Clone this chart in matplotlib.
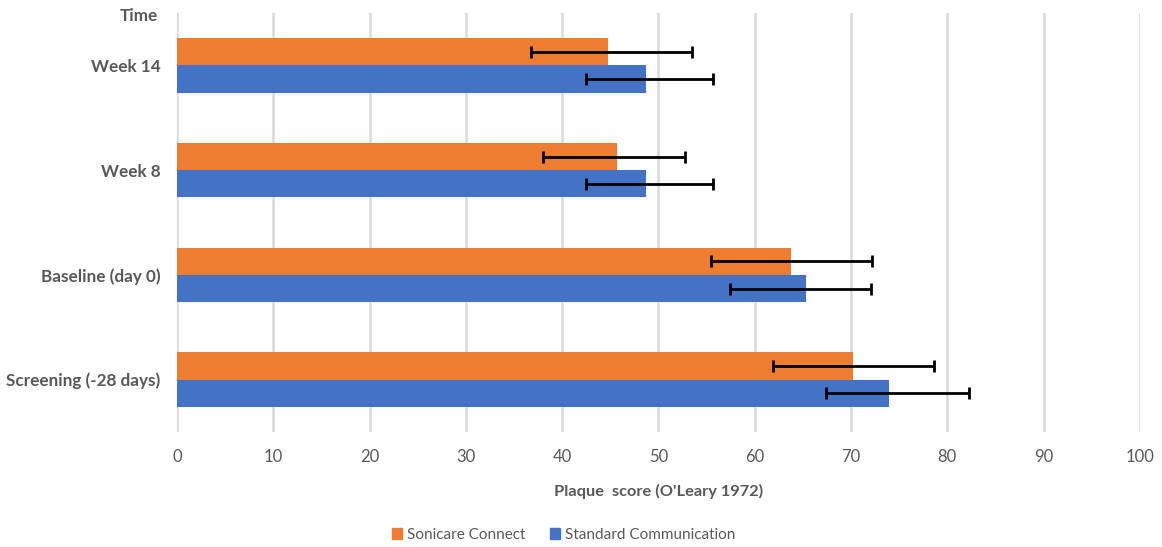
import matplotlib.pyplot as plt
from matplotlib.patches import Patch
import numpy as np

# Data (bottom to top)
categories = ['Screening (-28 days)', 'Baseline (day 0)', 'Week 8', 'Week 14']
sonicare = [70.2, 63.8, 45.7, 44.8]
sonicare_err_lo = [8.3, 8.3, 7.7, 8.0]
sonicare_err_hi = [8.4, 8.4, 7.1, 8.7]
standard = [73.9, 65.3, 48.7, 48.7]
standard_err_lo = [6.5, 7.9, 6.2, 6.2]
standard_err_hi = [8.3, 6.8, 7.0, 7.0]
xticks = list(range(0, 101, 10))

orange = '#ED7D31'
blue = '#4472C4'
text_grey = '#595959'

plt.rcParams['font.family'] = ['Lato', 'DejaVu Sans']

fig = plt.figure(figsize=(11.62, 5.47), dpi=100)
ax = fig.add_axes([0.1523, 0.2102, 0.8287, 0.7660])

y = np.arange(len(categories))
h = 0.26

ax.barh(y + h / 2, sonicare, height=h, color=orange, zorder=2)
ax.barh(y - h / 2, standard, height=h, color=blue, zorder=2)

ax.errorbar(sonicare, y + h / 2, xerr=[sonicare_err_lo, sonicare_err_hi],
            fmt='none', ecolor='black', elinewidth=2, capsize=4, capthick=2, zorder=3)
ax.errorbar(standard, y - h / 2, xerr=[standard_err_lo, standard_err_hi],
            fmt='none', ecolor='black', elinewidth=2, capsize=4, capthick=2, zorder=3)

ax.set_xlim(0, 100)
ax.set_ylim(-0.5, 3.5)
ax.set_xticks(xticks)
ax.set_yticks(y)
ax.set_yticklabels(categories, fontsize=12.3, fontweight='bold', color=text_grey)
ax.tick_params(axis='x', labelsize=12, colors=text_grey, length=0, pad=12)
ax.tick_params(axis='y', length=0, pad=12)
ax.xaxis.grid(True, color='#d9d9d9', linewidth=1.8, zorder=0)
ax.set_axisbelow(True)
for s in ax.spines.values():
    s.set_visible(False)

ax.set_xlabel("Plaque  score (O'Leary 1972)", fontsize=11.8, fontweight='bold',
              color=text_grey, labelpad=14)
fig.text(0.136, 1 - 16 / 547, 'Time', ha='right', va='center', fontsize=12.3,
         fontweight='bold', color=text_grey)

handles = [Patch(color=orange, label='Sonicare Connect'),
           Patch(color=blue, label='Standard Communication')]
fig.legend(handles=handles, loc='center', bbox_to_anchor=(0.485, 1 - 535 / 547), ncol=2,
           frameon=False, fontsize=11, handlelength=0.7, handleheight=0.7,
           handletextpad=0.3, columnspacing=1.6, labelcolor=text_grey)

fig.savefig('out.png', dpi=100)
